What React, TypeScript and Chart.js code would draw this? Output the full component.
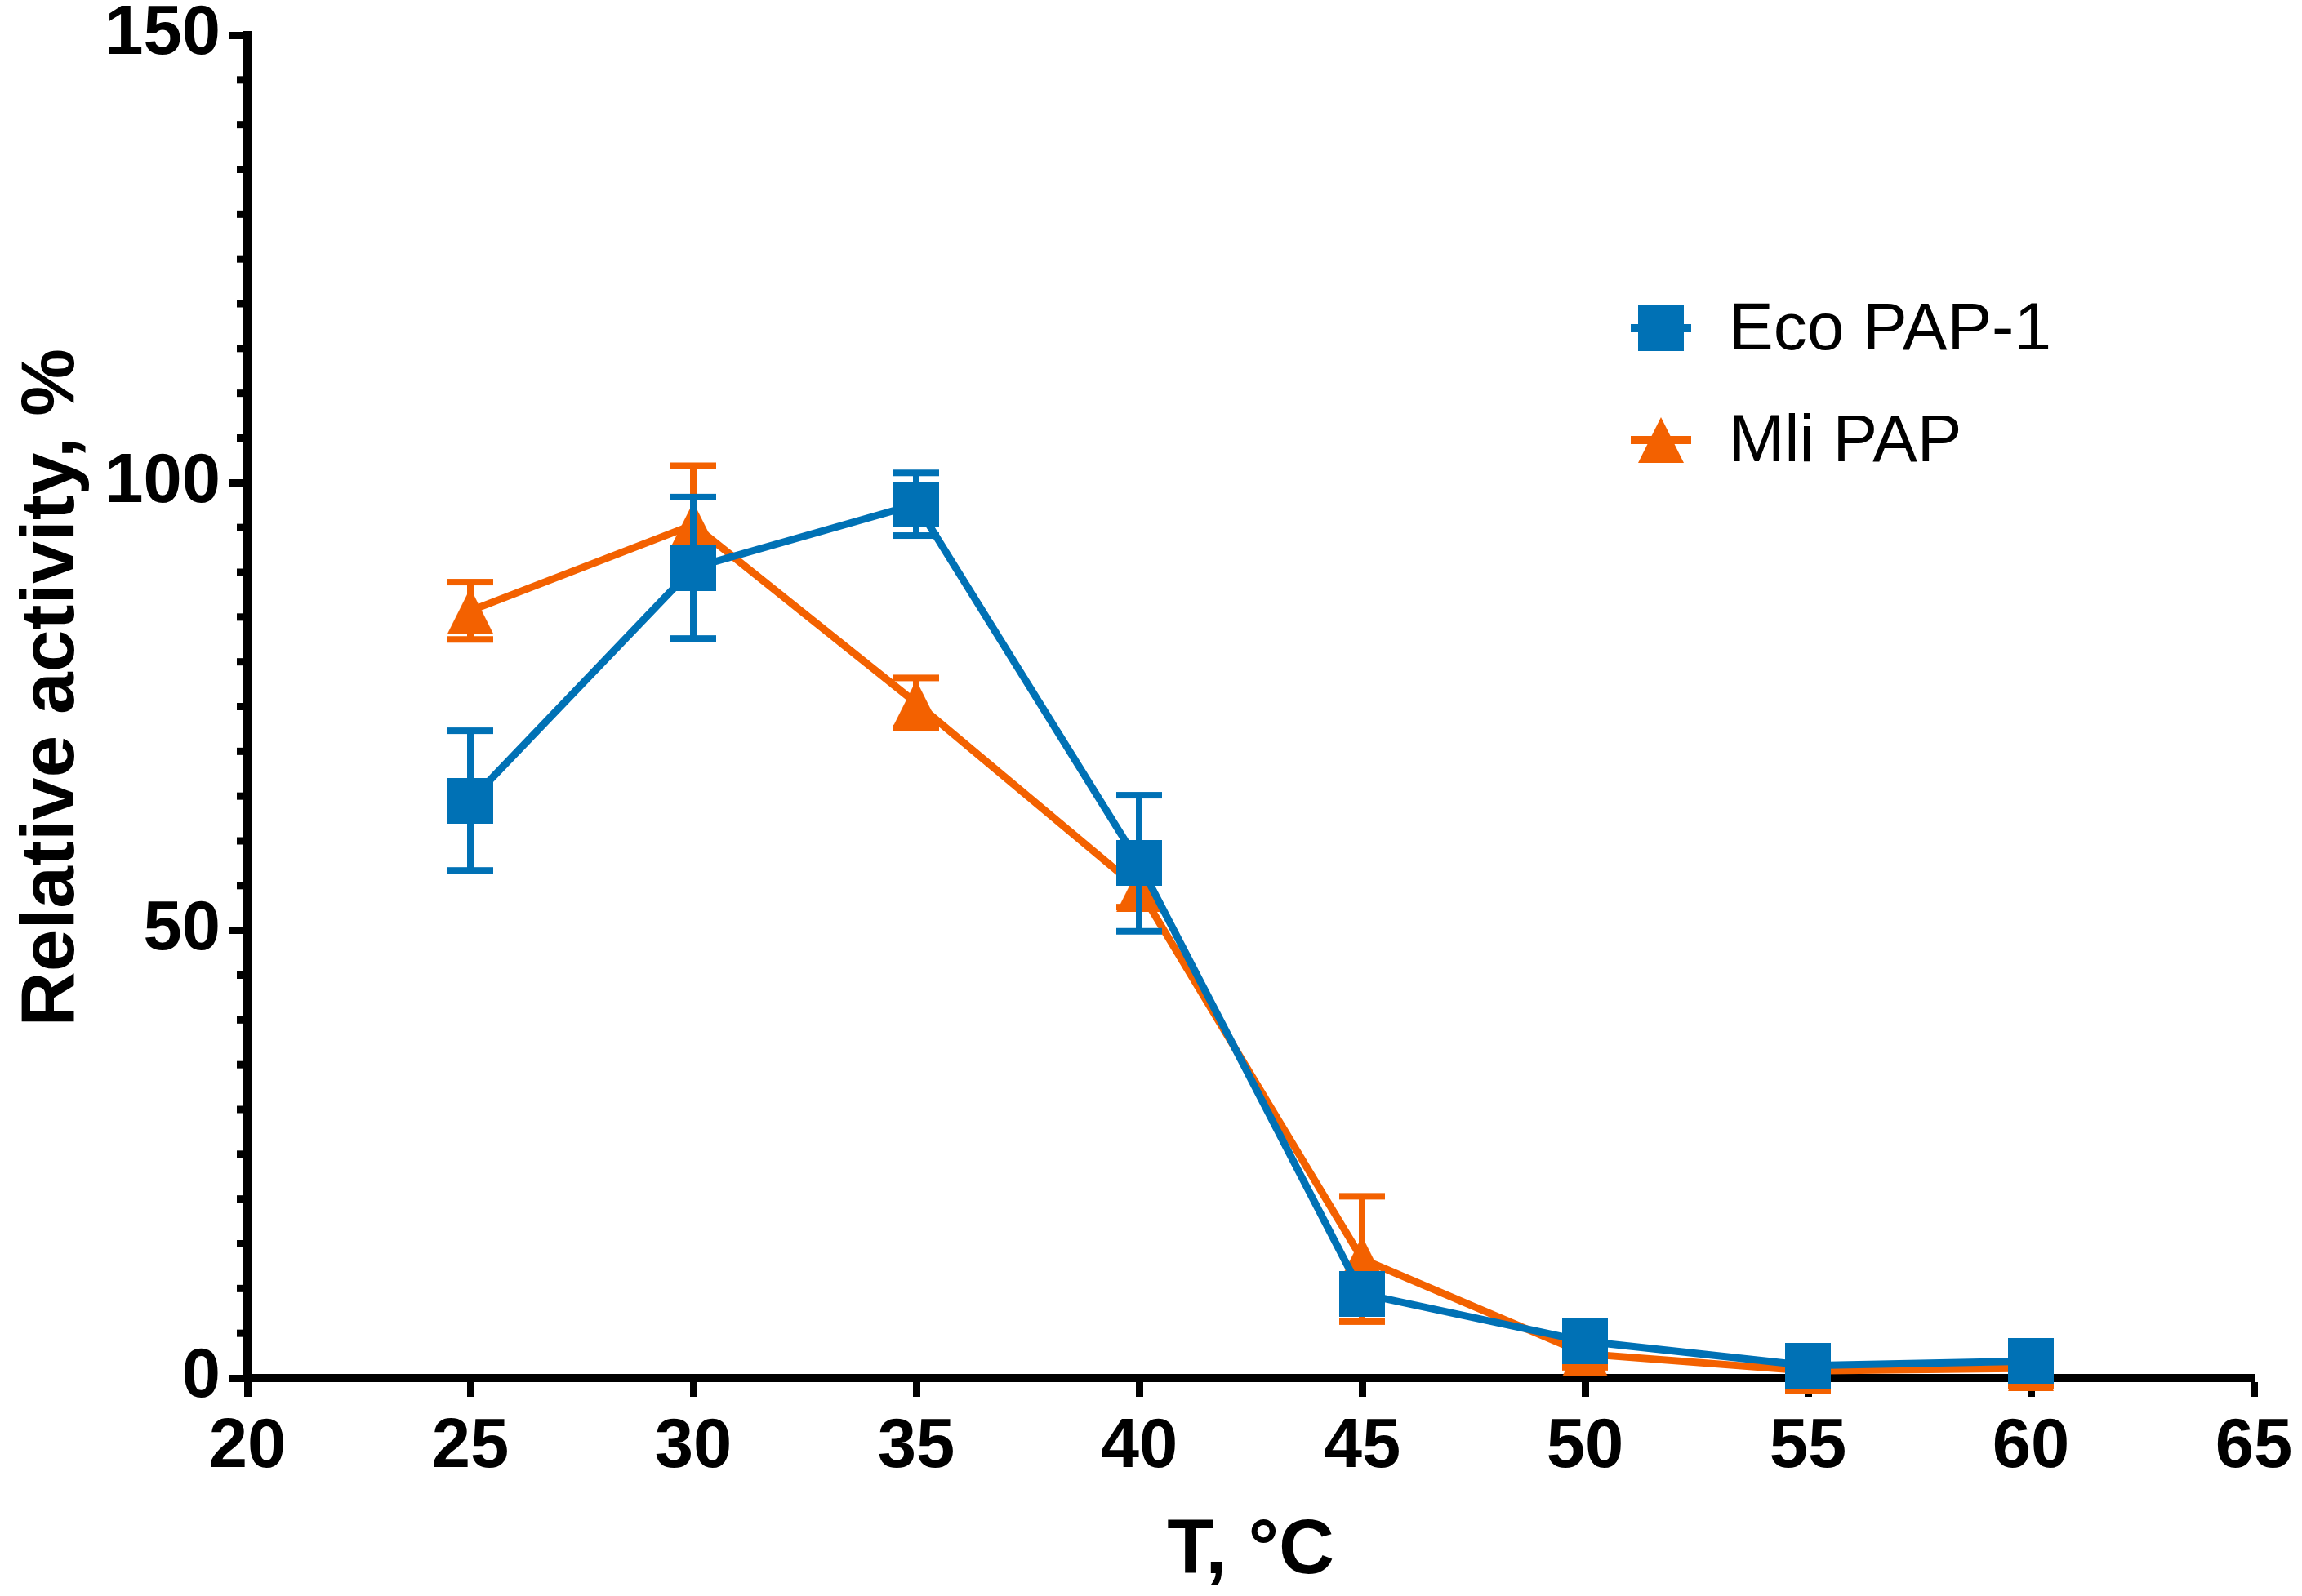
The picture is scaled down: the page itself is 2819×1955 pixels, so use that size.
import React, { useEffect, useRef } from "react";
import { Chart, registerables } from "chart.js";

Chart.register(...registerables);

// values (relative activity, %)
const temperatures = [25, 30, 35, 40, 45, 50, 55, 60];
const ecoActivity = [64.5, 90.5, 97.6, 57.5, 9.4, 4.1, 1.4, 1.9];
const ecoError = [7.8, 7.9, 3.5, 7.6, 1.5, 1.2, 1.0, 1.2];
const mliActivity = [85.7, 95.3, 75.4, 54.6, 13.3, 2.7, 0.8, 1.1];
const mliError = [3.2, 6.6, 2.8, 2.0, 7.0, 1.5, 2.2, 2.0];
const seriesLabels = ["Eco PAP-1", "Mli PAP"];
const xRange = [20, 65];
const yRange = [0, 150];

const BLUE = "#0071B5";
const ORANGE = "#F36100";
const FAMILY = "'Liberation Sans', Arial, sans-serif";
const MARK = 56;

const makeMarker = (shape: string, color: string) => {
  const c = document.createElement("canvas");
  c.width = MARK;
  c.height = MARK;
  const g = c.getContext("2d")!;
  g.fillStyle = color;
  if (shape === "square") {
    g.fillRect(0, 0, MARK, MARK);
  } else {
    g.beginPath();
    g.moveTo(MARK / 2, 0);
    g.lineTo(MARK, MARK);
    g.lineTo(0, MARK);
    g.closePath();
    g.fill();
  }
  return c;
};

const errorBars = {
  id: "errorBars",
  beforeDatasetDraw(chart: any, args: any) {
    const ds = chart.data.datasets[args.index];
    if (!ds.errors) return;
    const { ctx } = chart;
    const y = chart.scales.y;
    ctx.save();
    ctx.fillStyle = ds.borderColor;
    args.meta.data.forEach((pt: any, i: number) => {
      const v = ds.data[i].y;
      const e = ds.errors[i];
      const top = y.getPixelForValue(v + e);
      const bot = y.getPixelForValue(v - e);
      ctx.fillRect(pt.x - 4, top, 8, bot - top);
      ctx.fillRect(pt.x - MARK / 2, top - 4, MARK, 8);
      ctx.fillRect(pt.x - MARK / 2, bot - 4, MARK, 8);
    });
    ctx.restore();
  },
};

const minorTicks = {
  id: "minorTicks",
  afterDraw(chart: any) {
    const { ctx, chartArea } = chart;
    const y = chart.scales.y;
    ctx.save();
    ctx.fillStyle = "#000";
    for (let v = yRange[0] + 5; v < yRange[1]; v += 5) {
      if (v % 50 === 0) continue;
      const py = y.getPixelForValue(v);
      ctx.fillRect(chartArea.left - 13, py - 4.5, 13, 9);
    }
    ctx.restore();
  },
};

const sideLegend = {
  id: "sideLegend",
  afterDraw(chart: any) {
    const { ctx } = chart;
    const x0 = 2034;
    let y0 = 402;
    ctx.save();
    chart.data.datasets.forEach((ds: any) => {
      ctx.fillStyle = ds.borderColor;
      ctx.fillRect(x0 - 37, y0 - 5, 74, 10);
      ctx.drawImage(ds.pointStyle, x0 - MARK / 2, y0 - MARK / 2);
      ctx.fillStyle = "#000";
      ctx.font = `82px ${FAMILY}`;
      ctx.textBaseline = "middle";
      ctx.textAlign = "left";
      ctx.fillText(ds.label, 2117, y0 + 3);
      y0 += 137;
    });
    ctx.restore();
  },
};

export default function App() {
  const canvasRef = useRef<HTMLCanvasElement>(null);

  useEffect(() => {
    document.body.style.margin = "0";
    document.body.style.overflow = "hidden";
    if (!canvasRef.current) return;

    const tickFont = { family: FAMILY, size: 85, weight: "bold" as const };

    const chart = new Chart(canvasRef.current, {
      type: "line",
      data: {
        datasets: [
          {
            label: seriesLabels[0],
            data: temperatures.map((t, i) => ({ x: t, y: ecoActivity[i] })),
            errors: ecoError,
            borderColor: BLUE,
            backgroundColor: BLUE,
            borderWidth: 9,
            pointStyle: makeMarker("square", BLUE),
            pointRadius: 28,
            pointBorderWidth: 0,
            tension: 0,
            clip: false,
          } as any,
          {
            label: seriesLabels[1],
            data: temperatures.map((t, i) => ({ x: t, y: mliActivity[i] })),
            errors: mliError,
            borderColor: ORANGE,
            backgroundColor: ORANGE,
            borderWidth: 9,
            pointStyle: makeMarker("triangle", ORANGE),
            pointRadius: 28,
            pointBorderWidth: 0,
            tension: 0,
            clip: false,
          } as any,
        ],
      },
      options: {
        animation: false,
        responsive: true,
        maintainAspectRatio: false,
        events: [],
        layout: { padding: { left: 0, right: 59, top: 43, bottom: 0 } },
        plugins: {
          legend: { display: false },
          tooltip: { enabled: false },
        },
        scales: {
          x: {
            type: "linear",
            min: xRange[0],
            max: xRange[1],
            ticks: { stepSize: 5, color: "#000", font: tickFont, padding: 12, maxRotation: 0, autoSkip: false },
            grid: { display: true, drawOnChartArea: false, drawTicks: true, tickLength: 23, tickWidth: 9, tickColor: "#000" },
            border: { display: true, width: 10, color: "#000" },
            title: {
              display: true,
              text: "T, °C",
              color: "#000",
              font: { family: FAMILY, size: 94, weight: "bold", lineHeight: 1.15 },
              padding: 0,
            },
            afterFit: (s: any) => {
              s.height = 267;
              s.paddingLeft = 0;
              s.paddingRight = 0;
            },
          },
          y: {
            type: "linear",
            min: yRange[0],
            max: yRange[1],
            ticks: { stepSize: 50, color: "#000", font: tickFont, padding: 11 },
            grid: { display: true, drawOnChartArea: false, drawTicks: true, tickLength: 22, tickWidth: 9, tickColor: "#000" },
            border: { display: true, width: 10, color: "#000" },
            title: {
              display: true,
              text: "\u2002Relative activity, %",
              color: "#000",
              font: { family: FAMILY, size: 93, weight: "bold", lineHeight: 1.2 },
              padding: { top: 9, bottom: 0 },
            },
            afterFit: (s: any) => {
              s.width = 303;
              s.paddingTop = 0;
              s.paddingBottom = 0;
            },
          },
        },
      },
      plugins: [errorBars, minorTicks, sideLegend],
    });

    return () => {
      chart.destroy();
    };
  }, []);

  return (
    <div style={{ width: "2819px", height: "1955px", position: "relative" }}>
      <canvas ref={canvasRef} style={{ display: "block" }}></canvas>
    </div>
  );
}
